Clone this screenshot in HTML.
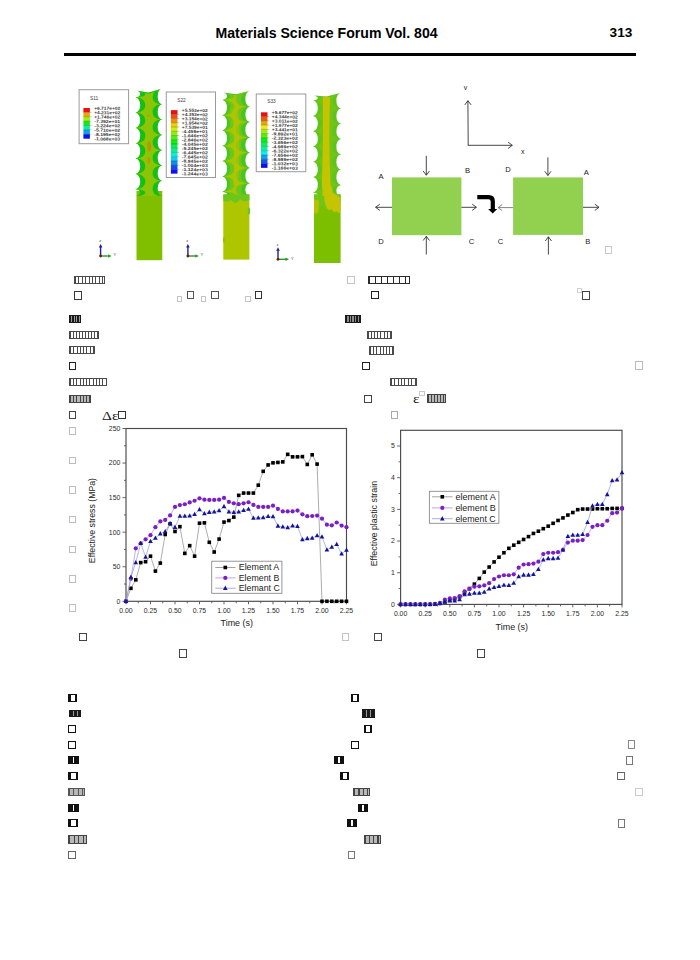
<!DOCTYPE html>
<html><head><meta charset="utf-8"><title>Materials Science Forum Vol. 804</title>
<style>
html,body{margin:0;padding:0;background:#fff;}
body{width:700px;height:960px;position:relative;overflow:hidden;font-family:"Liberation Sans",sans-serif;}
.a{position:absolute;white-space:nowrap;}
.t{position:absolute;box-sizing:border-box;}
svg{position:absolute;left:0;top:0;overflow:visible;}
</style></head><body>

<div class="a" style="left:215.4px;top:24.6px;font-weight:bold;font-size:14.1px;line-height:16px;color:#000">Materials Science Forum Vol. 804</div>
<div class="a" style="left:609.6px;top:24.8px;font-weight:bold;font-size:13.6px;line-height:16px;color:#000">313</div>
<div class="a" style="left:64px;top:53.4px;width:571.5px;height:2.3px;background:#000"></div>
<svg width="700" height="960" viewBox="0 0 700 960">
<g font-family='"Liberation Sans",sans-serif'>
<rect x="126" y="428.5" width="220.5" height="172.79999999999995" fill="none" stroke="#4a4a4a" stroke-width="1.15"/>
<line x1="126.00" y1="601.3" x2="126.00" y2="604.3" stroke="#555" stroke-width="0.9"/>
<text x="126.00" y="612.7" font-size="6.9" fill="#2a2a2a" text-anchor="middle" >0.00</text>
<line x1="138.25" y1="601.3" x2="138.25" y2="603.3" stroke="#555" stroke-width="0.9"/>
<line x1="150.50" y1="601.3" x2="150.50" y2="604.3" stroke="#555" stroke-width="0.9"/>
<text x="150.50" y="612.7" font-size="6.9" fill="#2a2a2a" text-anchor="middle" >0.25</text>
<line x1="162.75" y1="601.3" x2="162.75" y2="603.3" stroke="#555" stroke-width="0.9"/>
<line x1="175.00" y1="601.3" x2="175.00" y2="604.3" stroke="#555" stroke-width="0.9"/>
<text x="175.00" y="612.7" font-size="6.9" fill="#2a2a2a" text-anchor="middle" >0.50</text>
<line x1="187.25" y1="601.3" x2="187.25" y2="603.3" stroke="#555" stroke-width="0.9"/>
<line x1="199.50" y1="601.3" x2="199.50" y2="604.3" stroke="#555" stroke-width="0.9"/>
<text x="199.50" y="612.7" font-size="6.9" fill="#2a2a2a" text-anchor="middle" >0.75</text>
<line x1="211.75" y1="601.3" x2="211.75" y2="603.3" stroke="#555" stroke-width="0.9"/>
<line x1="224.00" y1="601.3" x2="224.00" y2="604.3" stroke="#555" stroke-width="0.9"/>
<text x="224.00" y="612.7" font-size="6.9" fill="#2a2a2a" text-anchor="middle" >1.00</text>
<line x1="236.25" y1="601.3" x2="236.25" y2="603.3" stroke="#555" stroke-width="0.9"/>
<line x1="248.50" y1="601.3" x2="248.50" y2="604.3" stroke="#555" stroke-width="0.9"/>
<text x="248.50" y="612.7" font-size="6.9" fill="#2a2a2a" text-anchor="middle" >1.25</text>
<line x1="260.75" y1="601.3" x2="260.75" y2="603.3" stroke="#555" stroke-width="0.9"/>
<line x1="273.00" y1="601.3" x2="273.00" y2="604.3" stroke="#555" stroke-width="0.9"/>
<text x="273.00" y="612.7" font-size="6.9" fill="#2a2a2a" text-anchor="middle" >1.50</text>
<line x1="285.25" y1="601.3" x2="285.25" y2="603.3" stroke="#555" stroke-width="0.9"/>
<line x1="297.50" y1="601.3" x2="297.50" y2="604.3" stroke="#555" stroke-width="0.9"/>
<text x="297.50" y="612.7" font-size="6.9" fill="#2a2a2a" text-anchor="middle" >1.75</text>
<line x1="309.75" y1="601.3" x2="309.75" y2="603.3" stroke="#555" stroke-width="0.9"/>
<line x1="322.00" y1="601.3" x2="322.00" y2="604.3" stroke="#555" stroke-width="0.9"/>
<text x="322.00" y="612.7" font-size="6.9" fill="#2a2a2a" text-anchor="middle" >2.00</text>
<line x1="334.25" y1="601.3" x2="334.25" y2="603.3" stroke="#555" stroke-width="0.9"/>
<line x1="346.50" y1="601.3" x2="346.50" y2="604.3" stroke="#555" stroke-width="0.9"/>
<text x="346.50" y="612.7" font-size="6.9" fill="#2a2a2a" text-anchor="middle" >2.25</text>
<line x1="122.5" y1="601.30" x2="126" y2="601.30" stroke="#555" stroke-width="0.9"/>
<line x1="122.5" y1="566.74" x2="126" y2="566.74" stroke="#555" stroke-width="0.9"/>
<line x1="122.5" y1="532.18" x2="126" y2="532.18" stroke="#555" stroke-width="0.9"/>
<line x1="122.5" y1="497.62" x2="126" y2="497.62" stroke="#555" stroke-width="0.9"/>
<line x1="122.5" y1="463.06" x2="126" y2="463.06" stroke="#555" stroke-width="0.9"/>
<line x1="122.5" y1="428.50" x2="126" y2="428.50" stroke="#555" stroke-width="0.9"/>
<text x="120.3" y="603.70" font-size="6.9" fill="#2a2a2a" text-anchor="end" >0</text>
<text x="120.3" y="569.14" font-size="6.9" fill="#2a2a2a" text-anchor="end" >50</text>
<text x="120.3" y="534.58" font-size="6.9" fill="#2a2a2a" text-anchor="end" >100</text>
<text x="120.3" y="500.02" font-size="6.9" fill="#2a2a2a" text-anchor="end" >150</text>
<text x="120.3" y="465.46" font-size="6.9" fill="#2a2a2a" text-anchor="end" >200</text>
<text x="120.3" y="430.90" font-size="6.9" fill="#2a2a2a" text-anchor="end" >250</text>
<line x1="124" y1="584.02" x2="126" y2="584.02" stroke="#555" stroke-width="0.9"/>
<line x1="124" y1="549.46" x2="126" y2="549.46" stroke="#555" stroke-width="0.9"/>
<line x1="124" y1="514.90" x2="126" y2="514.90" stroke="#555" stroke-width="0.9"/>
<line x1="124" y1="480.34" x2="126" y2="480.34" stroke="#555" stroke-width="0.9"/>
<line x1="124" y1="445.78" x2="126" y2="445.78" stroke="#555" stroke-width="0.9"/>
<text x="236.75" y="626.2" font-size="8.6" fill="#222" text-anchor="middle" textLength="32.5" lengthAdjust="spacingAndGlyphs" transform="translate(0,0)">Time (s)</text>
<text x="0" y="0" font-size="9" fill="#222" text-anchor="middle" textLength="85.2" lengthAdjust="spacingAndGlyphs" transform="translate(94.9,520.6) rotate(-90)">Effective stress (MPa)</text>
<polyline points="126.00,601.30 130.90,588.31 135.80,579.87 140.70,562.59 145.60,561.69 150.50,556.16 155.40,571.09 160.30,563.08 165.20,534.46 170.10,523.89 175.00,531.49 179.90,526.65 184.80,553.40 189.70,545.66 194.60,556.16 199.50,523.19 204.40,522.85 209.30,542.27 214.20,552.02 219.10,539.09 224.00,522.09 228.90,520.57 233.80,517.11 238.70,495.34 243.60,493.06 248.50,493.06 253.40,493.06 258.30,485.18 263.20,471.35 268.10,464.93 273.00,462.85 277.90,462.44 282.80,461.88 287.70,454.35 292.60,456.84 297.50,456.84 302.40,456.63 307.30,464.44 312.20,454.77 317.10,464.10 322.00,601.30 326.90,601.30 331.80,601.30 336.70,601.30 341.60,601.30 346.50,601.30" fill="none" stroke="#8a8a8a" stroke-width="0.7"/>
<rect x="124.20" y="599.50" width="3.6" height="3.6" fill="#000"/>
<rect x="129.10" y="586.51" width="3.6" height="3.6" fill="#000"/>
<rect x="134.00" y="578.07" width="3.6" height="3.6" fill="#000"/>
<rect x="138.90" y="560.79" width="3.6" height="3.6" fill="#000"/>
<rect x="143.80" y="559.89" width="3.6" height="3.6" fill="#000"/>
<rect x="148.70" y="554.36" width="3.6" height="3.6" fill="#000"/>
<rect x="153.60" y="569.29" width="3.6" height="3.6" fill="#000"/>
<rect x="158.50" y="561.28" width="3.6" height="3.6" fill="#000"/>
<rect x="163.40" y="532.66" width="3.6" height="3.6" fill="#000"/>
<rect x="168.30" y="522.09" width="3.6" height="3.6" fill="#000"/>
<rect x="173.20" y="529.69" width="3.6" height="3.6" fill="#000"/>
<rect x="178.10" y="524.85" width="3.6" height="3.6" fill="#000"/>
<rect x="183.00" y="551.60" width="3.6" height="3.6" fill="#000"/>
<rect x="187.90" y="543.86" width="3.6" height="3.6" fill="#000"/>
<rect x="192.80" y="554.36" width="3.6" height="3.6" fill="#000"/>
<rect x="197.70" y="521.39" width="3.6" height="3.6" fill="#000"/>
<rect x="202.60" y="521.05" width="3.6" height="3.6" fill="#000"/>
<rect x="207.50" y="540.47" width="3.6" height="3.6" fill="#000"/>
<rect x="212.40" y="550.22" width="3.6" height="3.6" fill="#000"/>
<rect x="217.30" y="537.29" width="3.6" height="3.6" fill="#000"/>
<rect x="222.20" y="520.29" width="3.6" height="3.6" fill="#000"/>
<rect x="227.10" y="518.77" width="3.6" height="3.6" fill="#000"/>
<rect x="232.00" y="515.31" width="3.6" height="3.6" fill="#000"/>
<rect x="236.90" y="493.54" width="3.6" height="3.6" fill="#000"/>
<rect x="241.80" y="491.26" width="3.6" height="3.6" fill="#000"/>
<rect x="246.70" y="491.26" width="3.6" height="3.6" fill="#000"/>
<rect x="251.60" y="491.26" width="3.6" height="3.6" fill="#000"/>
<rect x="256.50" y="483.38" width="3.6" height="3.6" fill="#000"/>
<rect x="261.40" y="469.55" width="3.6" height="3.6" fill="#000"/>
<rect x="266.30" y="463.13" width="3.6" height="3.6" fill="#000"/>
<rect x="271.20" y="461.05" width="3.6" height="3.6" fill="#000"/>
<rect x="276.10" y="460.64" width="3.6" height="3.6" fill="#000"/>
<rect x="281.00" y="460.08" width="3.6" height="3.6" fill="#000"/>
<rect x="285.90" y="452.55" width="3.6" height="3.6" fill="#000"/>
<rect x="290.80" y="455.04" width="3.6" height="3.6" fill="#000"/>
<rect x="295.70" y="455.04" width="3.6" height="3.6" fill="#000"/>
<rect x="300.60" y="454.83" width="3.6" height="3.6" fill="#000"/>
<rect x="305.50" y="462.64" width="3.6" height="3.6" fill="#000"/>
<rect x="310.40" y="452.97" width="3.6" height="3.6" fill="#000"/>
<rect x="315.30" y="462.30" width="3.6" height="3.6" fill="#000"/>
<rect x="320.20" y="599.50" width="3.6" height="3.6" fill="#000"/>
<rect x="325.10" y="599.50" width="3.6" height="3.6" fill="#000"/>
<rect x="330.00" y="599.50" width="3.6" height="3.6" fill="#000"/>
<rect x="334.90" y="599.50" width="3.6" height="3.6" fill="#000"/>
<rect x="339.80" y="599.50" width="3.6" height="3.6" fill="#000"/>
<rect x="344.70" y="599.50" width="3.6" height="3.6" fill="#000"/>
<polyline points="126.00,601.30 130.90,578.84 135.80,548.28 140.70,543.24 145.60,539.37 150.50,535.15 155.40,527.20 160.30,521.47 165.20,519.95 170.10,515.38 175.00,506.88 179.90,505.08 184.80,504.26 189.70,502.46 194.60,500.73 199.50,498.31 204.40,499.69 209.30,499.97 214.20,499.97 219.10,499.69 224.00,497.97 228.90,501.91 233.80,503.36 238.70,504.19 243.60,503.36 248.50,502.25 253.40,504.88 258.30,506.88 263.20,506.88 268.10,506.88 273.00,505.64 277.90,508.96 282.80,511.44 287.70,511.44 292.60,511.44 297.50,510.61 302.40,514.35 307.30,516.21 312.20,516.01 317.10,515.59 322.00,518.70 326.90,524.72 331.80,525.34 336.70,522.50 341.60,525.61 346.50,527.20" fill="none" stroke="#b58ae0" stroke-width="0.7"/>
<circle cx="126.00" cy="601.30" r="2.1" fill="#7a1fc4"/>
<circle cx="130.90" cy="578.84" r="2.1" fill="#7a1fc4"/>
<circle cx="135.80" cy="548.28" r="2.1" fill="#7a1fc4"/>
<circle cx="140.70" cy="543.24" r="2.1" fill="#7a1fc4"/>
<circle cx="145.60" cy="539.37" r="2.1" fill="#7a1fc4"/>
<circle cx="150.50" cy="535.15" r="2.1" fill="#7a1fc4"/>
<circle cx="155.40" cy="527.20" r="2.1" fill="#7a1fc4"/>
<circle cx="160.30" cy="521.47" r="2.1" fill="#7a1fc4"/>
<circle cx="165.20" cy="519.95" r="2.1" fill="#7a1fc4"/>
<circle cx="170.10" cy="515.38" r="2.1" fill="#7a1fc4"/>
<circle cx="175.00" cy="506.88" r="2.1" fill="#7a1fc4"/>
<circle cx="179.90" cy="505.08" r="2.1" fill="#7a1fc4"/>
<circle cx="184.80" cy="504.26" r="2.1" fill="#7a1fc4"/>
<circle cx="189.70" cy="502.46" r="2.1" fill="#7a1fc4"/>
<circle cx="194.60" cy="500.73" r="2.1" fill="#7a1fc4"/>
<circle cx="199.50" cy="498.31" r="2.1" fill="#7a1fc4"/>
<circle cx="204.40" cy="499.69" r="2.1" fill="#7a1fc4"/>
<circle cx="209.30" cy="499.97" r="2.1" fill="#7a1fc4"/>
<circle cx="214.20" cy="499.97" r="2.1" fill="#7a1fc4"/>
<circle cx="219.10" cy="499.69" r="2.1" fill="#7a1fc4"/>
<circle cx="224.00" cy="497.97" r="2.1" fill="#7a1fc4"/>
<circle cx="228.90" cy="501.91" r="2.1" fill="#7a1fc4"/>
<circle cx="233.80" cy="503.36" r="2.1" fill="#7a1fc4"/>
<circle cx="238.70" cy="504.19" r="2.1" fill="#7a1fc4"/>
<circle cx="243.60" cy="503.36" r="2.1" fill="#7a1fc4"/>
<circle cx="248.50" cy="502.25" r="2.1" fill="#7a1fc4"/>
<circle cx="253.40" cy="504.88" r="2.1" fill="#7a1fc4"/>
<circle cx="258.30" cy="506.88" r="2.1" fill="#7a1fc4"/>
<circle cx="263.20" cy="506.88" r="2.1" fill="#7a1fc4"/>
<circle cx="268.10" cy="506.88" r="2.1" fill="#7a1fc4"/>
<circle cx="273.00" cy="505.64" r="2.1" fill="#7a1fc4"/>
<circle cx="277.90" cy="508.96" r="2.1" fill="#7a1fc4"/>
<circle cx="282.80" cy="511.44" r="2.1" fill="#7a1fc4"/>
<circle cx="287.70" cy="511.44" r="2.1" fill="#7a1fc4"/>
<circle cx="292.60" cy="511.44" r="2.1" fill="#7a1fc4"/>
<circle cx="297.50" cy="510.61" r="2.1" fill="#7a1fc4"/>
<circle cx="302.40" cy="514.35" r="2.1" fill="#7a1fc4"/>
<circle cx="307.30" cy="516.21" r="2.1" fill="#7a1fc4"/>
<circle cx="312.20" cy="516.01" r="2.1" fill="#7a1fc4"/>
<circle cx="317.10" cy="515.59" r="2.1" fill="#7a1fc4"/>
<circle cx="322.00" cy="518.70" r="2.1" fill="#7a1fc4"/>
<circle cx="326.90" cy="524.72" r="2.1" fill="#7a1fc4"/>
<circle cx="331.80" cy="525.34" r="2.1" fill="#7a1fc4"/>
<circle cx="336.70" cy="522.50" r="2.1" fill="#7a1fc4"/>
<circle cx="341.60" cy="525.61" r="2.1" fill="#7a1fc4"/>
<circle cx="346.50" cy="527.20" r="2.1" fill="#7a1fc4"/>
<polyline points="126.00,601.30 130.90,577.11 135.80,562.59 140.70,543.24 145.60,557.06 150.50,541.37 155.40,538.06 160.30,533.70 165.20,531.49 170.10,523.40 175.00,527.20 179.90,516.14 184.80,516.14 189.70,515.73 194.60,514.28 199.50,509.51 204.40,513.66 209.30,512.20 214.20,511.79 219.10,510.61 224.00,506.47 228.90,511.79 233.80,512.27 238.70,511.79 243.60,510.27 248.50,509.09 253.40,518.08 258.30,517.80 263.20,517.53 268.10,516.28 273.00,516.49 277.90,525.96 282.80,526.86 287.70,527.48 292.60,525.89 297.50,526.24 302.40,539.58 307.30,538.47 312.20,538.12 317.10,535.64 322.00,536.88 326.90,549.74 331.80,547.11 336.70,544.41 341.60,553.75 346.50,550.01" fill="none" stroke="#8f9ad0" stroke-width="0.7"/>
<path d="M126.00,598.70L128.30,603.00L123.70,603.00Z" fill="#14149a"/>
<path d="M130.90,574.51L133.20,578.81L128.60,578.81Z" fill="#14149a"/>
<path d="M135.80,559.99L138.10,564.29L133.50,564.29Z" fill="#14149a"/>
<path d="M140.70,540.64L143.00,544.94L138.40,544.94Z" fill="#14149a"/>
<path d="M145.60,554.46L147.90,558.76L143.30,558.76Z" fill="#14149a"/>
<path d="M150.50,538.77L152.80,543.07L148.20,543.07Z" fill="#14149a"/>
<path d="M155.40,535.46L157.70,539.76L153.10,539.76Z" fill="#14149a"/>
<path d="M160.30,531.10L162.60,535.40L158.00,535.40Z" fill="#14149a"/>
<path d="M165.20,528.89L167.50,533.19L162.90,533.19Z" fill="#14149a"/>
<path d="M170.10,520.80L172.40,525.10L167.80,525.10Z" fill="#14149a"/>
<path d="M175.00,524.60L177.30,528.90L172.70,528.90Z" fill="#14149a"/>
<path d="M179.90,513.54L182.20,517.84L177.60,517.84Z" fill="#14149a"/>
<path d="M184.80,513.54L187.10,517.84L182.50,517.84Z" fill="#14149a"/>
<path d="M189.70,513.13L192.00,517.43L187.40,517.43Z" fill="#14149a"/>
<path d="M194.60,511.68L196.90,515.98L192.30,515.98Z" fill="#14149a"/>
<path d="M199.50,506.91L201.80,511.21L197.20,511.21Z" fill="#14149a"/>
<path d="M204.40,511.06L206.70,515.36L202.10,515.36Z" fill="#14149a"/>
<path d="M209.30,509.60L211.60,513.90L207.00,513.90Z" fill="#14149a"/>
<path d="M214.20,509.19L216.50,513.49L211.90,513.49Z" fill="#14149a"/>
<path d="M219.10,508.01L221.40,512.31L216.80,512.31Z" fill="#14149a"/>
<path d="M224.00,503.87L226.30,508.17L221.70,508.17Z" fill="#14149a"/>
<path d="M228.90,509.19L231.20,513.49L226.60,513.49Z" fill="#14149a"/>
<path d="M233.80,509.67L236.10,513.97L231.50,513.97Z" fill="#14149a"/>
<path d="M238.70,509.19L241.00,513.49L236.40,513.49Z" fill="#14149a"/>
<path d="M243.60,507.67L245.90,511.97L241.30,511.97Z" fill="#14149a"/>
<path d="M248.50,506.49L250.80,510.79L246.20,510.79Z" fill="#14149a"/>
<path d="M253.40,515.48L255.70,519.78L251.10,519.78Z" fill="#14149a"/>
<path d="M258.30,515.20L260.60,519.50L256.00,519.50Z" fill="#14149a"/>
<path d="M263.20,514.93L265.50,519.23L260.90,519.23Z" fill="#14149a"/>
<path d="M268.10,513.68L270.40,517.98L265.80,517.98Z" fill="#14149a"/>
<path d="M273.00,513.89L275.30,518.19L270.70,518.19Z" fill="#14149a"/>
<path d="M277.90,523.36L280.20,527.66L275.60,527.66Z" fill="#14149a"/>
<path d="M282.80,524.26L285.10,528.56L280.50,528.56Z" fill="#14149a"/>
<path d="M287.70,524.88L290.00,529.18L285.40,529.18Z" fill="#14149a"/>
<path d="M292.60,523.29L294.90,527.59L290.30,527.59Z" fill="#14149a"/>
<path d="M297.50,523.64L299.80,527.94L295.20,527.94Z" fill="#14149a"/>
<path d="M302.40,536.98L304.70,541.28L300.10,541.28Z" fill="#14149a"/>
<path d="M307.30,535.87L309.60,540.17L305.00,540.17Z" fill="#14149a"/>
<path d="M312.20,535.52L314.50,539.82L309.90,539.82Z" fill="#14149a"/>
<path d="M317.10,533.04L319.40,537.34L314.80,537.34Z" fill="#14149a"/>
<path d="M322.00,534.28L324.30,538.58L319.70,538.58Z" fill="#14149a"/>
<path d="M326.90,547.14L329.20,551.44L324.60,551.44Z" fill="#14149a"/>
<path d="M331.80,544.51L334.10,548.81L329.50,548.81Z" fill="#14149a"/>
<path d="M336.70,541.81L339.00,546.11L334.40,546.11Z" fill="#14149a"/>
<path d="M341.60,551.15L343.90,555.45L339.30,555.45Z" fill="#14149a"/>
<path d="M346.50,547.41L348.80,551.71L344.20,551.71Z" fill="#14149a"/>
<rect x="211.7" y="561.2" width="70.19999999999999" height="32.09999999999991" fill="#fff" stroke="#8a8a8a" stroke-width="0.9"/>
<line x1="215.3" y1="567.5" x2="235.5" y2="567.5" stroke="#8a8a8a" stroke-width="0.8"/>
<rect x="223.50" y="565.70" width="3.6" height="3.6" fill="#000"/>
<text x="238.7" y="570.40" font-size="8.2" fill="#222" text-anchor="start" textLength="40.6" lengthAdjust="spacingAndGlyphs" >Element A</text>
<line x1="215.3" y1="577.9" x2="235.5" y2="577.9" stroke="#b58ae0" stroke-width="0.8"/>
<circle cx="225.30" cy="577.90" r="2.1" fill="#7a1fc4"/>
<text x="238.7" y="580.80" font-size="8.2" fill="#222" text-anchor="start" textLength="40.6" lengthAdjust="spacingAndGlyphs" >Element B</text>
<line x1="215.3" y1="588.2" x2="235.5" y2="588.2" stroke="#8f9ad0" stroke-width="0.8"/>
<path d="M225.30,585.60L227.60,589.90L223.00,589.90Z" fill="#14149a"/>
<text x="238.7" y="591.10" font-size="8.2" fill="#222" text-anchor="start" textLength="41.2" lengthAdjust="spacingAndGlyphs" >Elemant C</text>
</g>
<g font-family='"Liberation Sans",sans-serif'>
<rect x="400.6" y="430.3" width="221.39999999999998" height="174.09999999999997" fill="none" stroke="#4a4a4a" stroke-width="1.15"/>
<line x1="400.60" y1="604.4" x2="400.60" y2="607.4" stroke="#555" stroke-width="0.9"/>
<text x="400.60" y="615.9" font-size="6.9" fill="#2a2a2a" text-anchor="middle" >0.00</text>
<line x1="412.90" y1="604.4" x2="412.90" y2="606.4" stroke="#555" stroke-width="0.9"/>
<line x1="425.20" y1="604.4" x2="425.20" y2="607.4" stroke="#555" stroke-width="0.9"/>
<text x="425.20" y="615.9" font-size="6.9" fill="#2a2a2a" text-anchor="middle" >0.25</text>
<line x1="437.50" y1="604.4" x2="437.50" y2="606.4" stroke="#555" stroke-width="0.9"/>
<line x1="449.80" y1="604.4" x2="449.80" y2="607.4" stroke="#555" stroke-width="0.9"/>
<text x="449.80" y="615.9" font-size="6.9" fill="#2a2a2a" text-anchor="middle" >0.50</text>
<line x1="462.10" y1="604.4" x2="462.10" y2="606.4" stroke="#555" stroke-width="0.9"/>
<line x1="474.40" y1="604.4" x2="474.40" y2="607.4" stroke="#555" stroke-width="0.9"/>
<text x="474.40" y="615.9" font-size="6.9" fill="#2a2a2a" text-anchor="middle" >0.75</text>
<line x1="486.70" y1="604.4" x2="486.70" y2="606.4" stroke="#555" stroke-width="0.9"/>
<line x1="499.00" y1="604.4" x2="499.00" y2="607.4" stroke="#555" stroke-width="0.9"/>
<text x="499.00" y="615.9" font-size="6.9" fill="#2a2a2a" text-anchor="middle" >1.00</text>
<line x1="511.30" y1="604.4" x2="511.30" y2="606.4" stroke="#555" stroke-width="0.9"/>
<line x1="523.60" y1="604.4" x2="523.60" y2="607.4" stroke="#555" stroke-width="0.9"/>
<text x="523.60" y="615.9" font-size="6.9" fill="#2a2a2a" text-anchor="middle" >1.25</text>
<line x1="535.90" y1="604.4" x2="535.90" y2="606.4" stroke="#555" stroke-width="0.9"/>
<line x1="548.20" y1="604.4" x2="548.20" y2="607.4" stroke="#555" stroke-width="0.9"/>
<text x="548.20" y="615.9" font-size="6.9" fill="#2a2a2a" text-anchor="middle" >1.50</text>
<line x1="560.50" y1="604.4" x2="560.50" y2="606.4" stroke="#555" stroke-width="0.9"/>
<line x1="572.80" y1="604.4" x2="572.80" y2="607.4" stroke="#555" stroke-width="0.9"/>
<text x="572.80" y="615.9" font-size="6.9" fill="#2a2a2a" text-anchor="middle" >1.75</text>
<line x1="585.10" y1="604.4" x2="585.10" y2="606.4" stroke="#555" stroke-width="0.9"/>
<line x1="597.40" y1="604.4" x2="597.40" y2="607.4" stroke="#555" stroke-width="0.9"/>
<text x="597.40" y="615.9" font-size="6.9" fill="#2a2a2a" text-anchor="middle" >2.00</text>
<line x1="609.70" y1="604.4" x2="609.70" y2="606.4" stroke="#555" stroke-width="0.9"/>
<line x1="622.00" y1="604.4" x2="622.00" y2="607.4" stroke="#555" stroke-width="0.9"/>
<text x="622.00" y="615.9" font-size="6.9" fill="#2a2a2a" text-anchor="middle" >2.25</text>
<line x1="397.1" y1="604.40" x2="400.6" y2="604.40" stroke="#555" stroke-width="0.9"/>
<line x1="397.1" y1="572.72" x2="400.6" y2="572.72" stroke="#555" stroke-width="0.9"/>
<line x1="397.1" y1="541.04" x2="400.6" y2="541.04" stroke="#555" stroke-width="0.9"/>
<line x1="397.1" y1="509.36" x2="400.6" y2="509.36" stroke="#555" stroke-width="0.9"/>
<line x1="397.1" y1="477.68" x2="400.6" y2="477.68" stroke="#555" stroke-width="0.9"/>
<line x1="397.1" y1="446.00" x2="400.6" y2="446.00" stroke="#555" stroke-width="0.9"/>
<text x="394.8" y="606.80" font-size="6.9" fill="#2a2a2a" text-anchor="end" >0</text>
<text x="394.8" y="575.12" font-size="6.9" fill="#2a2a2a" text-anchor="end" >1</text>
<text x="394.8" y="543.44" font-size="6.9" fill="#2a2a2a" text-anchor="end" >2</text>
<text x="394.8" y="511.76" font-size="6.9" fill="#2a2a2a" text-anchor="end" >3</text>
<text x="394.8" y="480.08" font-size="6.9" fill="#2a2a2a" text-anchor="end" >4</text>
<text x="394.8" y="448.40" font-size="6.9" fill="#2a2a2a" text-anchor="end" >5</text>
<line x1="398.6" y1="588.56" x2="400.6" y2="588.56" stroke="#555" stroke-width="0.9"/>
<line x1="398.6" y1="556.88" x2="400.6" y2="556.88" stroke="#555" stroke-width="0.9"/>
<line x1="398.6" y1="525.20" x2="400.6" y2="525.20" stroke="#555" stroke-width="0.9"/>
<line x1="398.6" y1="493.52" x2="400.6" y2="493.52" stroke="#555" stroke-width="0.9"/>
<line x1="398.6" y1="461.84" x2="400.6" y2="461.84" stroke="#555" stroke-width="0.9"/>
<text x="511.8" y="629.5" font-size="8.6" fill="#222" text-anchor="middle" textLength="32.5" lengthAdjust="spacingAndGlyphs" transform="translate(0,0)">Time (s)</text>
<text x="0" y="0" font-size="9" fill="#222" text-anchor="middle" textLength="85.4" lengthAdjust="spacingAndGlyphs" transform="translate(377.2,523.6) rotate(-90)">Effective plastic strain</text>
<polyline points="400.60,604.40 405.52,604.40 410.44,604.40 415.36,604.40 420.28,604.40 425.20,604.40 430.12,604.40 435.04,604.08 439.96,603.45 444.88,601.87 449.80,600.28 454.72,599.01 459.64,596.80 464.56,593.00 469.48,588.56 474.40,584.12 479.32,578.42 484.24,572.09 489.16,567.02 494.08,561.95 499.00,557.20 503.92,552.76 508.84,548.33 513.76,545.16 518.68,542.31 523.60,539.46 528.52,536.60 533.44,533.44 538.36,531.22 543.28,528.68 548.20,526.15 553.12,523.30 558.04,520.45 562.96,517.91 567.88,515.06 572.80,512.53 577.72,509.68 582.64,509.04 587.56,509.04 592.48,509.04 597.40,508.73 602.32,508.73 607.24,508.73 612.16,508.41 617.08,508.41 622.00,508.41" fill="none" stroke="#8a8a8a" stroke-width="0.7"/>
<rect x="398.80" y="602.60" width="3.6" height="3.6" fill="#000"/>
<rect x="403.72" y="602.60" width="3.6" height="3.6" fill="#000"/>
<rect x="408.64" y="602.60" width="3.6" height="3.6" fill="#000"/>
<rect x="413.56" y="602.60" width="3.6" height="3.6" fill="#000"/>
<rect x="418.48" y="602.60" width="3.6" height="3.6" fill="#000"/>
<rect x="423.40" y="602.60" width="3.6" height="3.6" fill="#000"/>
<rect x="428.32" y="602.60" width="3.6" height="3.6" fill="#000"/>
<rect x="433.24" y="602.28" width="3.6" height="3.6" fill="#000"/>
<rect x="438.16" y="601.65" width="3.6" height="3.6" fill="#000"/>
<rect x="443.08" y="600.07" width="3.6" height="3.6" fill="#000"/>
<rect x="448.00" y="598.48" width="3.6" height="3.6" fill="#000"/>
<rect x="452.92" y="597.21" width="3.6" height="3.6" fill="#000"/>
<rect x="457.84" y="595.00" width="3.6" height="3.6" fill="#000"/>
<rect x="462.76" y="591.20" width="3.6" height="3.6" fill="#000"/>
<rect x="467.68" y="586.76" width="3.6" height="3.6" fill="#000"/>
<rect x="472.60" y="582.32" width="3.6" height="3.6" fill="#000"/>
<rect x="477.52" y="576.62" width="3.6" height="3.6" fill="#000"/>
<rect x="482.44" y="570.29" width="3.6" height="3.6" fill="#000"/>
<rect x="487.36" y="565.22" width="3.6" height="3.6" fill="#000"/>
<rect x="492.28" y="560.15" width="3.6" height="3.6" fill="#000"/>
<rect x="497.20" y="555.40" width="3.6" height="3.6" fill="#000"/>
<rect x="502.12" y="550.96" width="3.6" height="3.6" fill="#000"/>
<rect x="507.04" y="546.53" width="3.6" height="3.6" fill="#000"/>
<rect x="511.96" y="543.36" width="3.6" height="3.6" fill="#000"/>
<rect x="516.88" y="540.51" width="3.6" height="3.6" fill="#000"/>
<rect x="521.80" y="537.66" width="3.6" height="3.6" fill="#000"/>
<rect x="526.72" y="534.80" width="3.6" height="3.6" fill="#000"/>
<rect x="531.64" y="531.64" width="3.6" height="3.6" fill="#000"/>
<rect x="536.56" y="529.42" width="3.6" height="3.6" fill="#000"/>
<rect x="541.48" y="526.88" width="3.6" height="3.6" fill="#000"/>
<rect x="546.40" y="524.35" width="3.6" height="3.6" fill="#000"/>
<rect x="551.32" y="521.50" width="3.6" height="3.6" fill="#000"/>
<rect x="556.24" y="518.65" width="3.6" height="3.6" fill="#000"/>
<rect x="561.16" y="516.11" width="3.6" height="3.6" fill="#000"/>
<rect x="566.08" y="513.26" width="3.6" height="3.6" fill="#000"/>
<rect x="571.00" y="510.73" width="3.6" height="3.6" fill="#000"/>
<rect x="575.92" y="507.88" width="3.6" height="3.6" fill="#000"/>
<rect x="580.84" y="507.24" width="3.6" height="3.6" fill="#000"/>
<rect x="585.76" y="507.24" width="3.6" height="3.6" fill="#000"/>
<rect x="590.68" y="507.24" width="3.6" height="3.6" fill="#000"/>
<rect x="595.60" y="506.93" width="3.6" height="3.6" fill="#000"/>
<rect x="600.52" y="506.93" width="3.6" height="3.6" fill="#000"/>
<rect x="605.44" y="506.93" width="3.6" height="3.6" fill="#000"/>
<rect x="610.36" y="506.61" width="3.6" height="3.6" fill="#000"/>
<rect x="615.28" y="506.61" width="3.6" height="3.6" fill="#000"/>
<rect x="620.20" y="506.61" width="3.6" height="3.6" fill="#000"/>
<polyline points="400.60,604.40 405.52,604.40 410.44,604.40 415.36,604.40 420.28,604.40 425.20,604.40 430.12,604.24 435.04,604.08 439.96,603.13 444.88,599.65 449.80,598.38 454.72,598.06 459.64,596.16 464.56,591.41 469.48,588.88 474.40,586.66 479.32,586.34 484.24,585.39 489.16,583.17 494.08,579.06 499.00,576.52 503.92,575.25 508.84,575.25 513.76,574.30 518.68,567.65 523.60,564.48 528.52,564.17 533.44,563.53 538.36,561.63 543.28,554.03 548.20,552.76 553.12,552.76 558.04,552.13 562.96,549.91 567.88,542.62 572.80,540.72 577.72,540.72 582.64,540.09 587.56,535.02 592.48,526.78 597.40,525.20 602.32,525.20 607.24,520.76 612.16,513.16 617.08,512.53 622.00,508.41" fill="none" stroke="#b58ae0" stroke-width="0.7"/>
<circle cx="400.60" cy="604.40" r="2.1" fill="#7a1fc4"/>
<circle cx="405.52" cy="604.40" r="2.1" fill="#7a1fc4"/>
<circle cx="410.44" cy="604.40" r="2.1" fill="#7a1fc4"/>
<circle cx="415.36" cy="604.40" r="2.1" fill="#7a1fc4"/>
<circle cx="420.28" cy="604.40" r="2.1" fill="#7a1fc4"/>
<circle cx="425.20" cy="604.40" r="2.1" fill="#7a1fc4"/>
<circle cx="430.12" cy="604.24" r="2.1" fill="#7a1fc4"/>
<circle cx="435.04" cy="604.08" r="2.1" fill="#7a1fc4"/>
<circle cx="439.96" cy="603.13" r="2.1" fill="#7a1fc4"/>
<circle cx="444.88" cy="599.65" r="2.1" fill="#7a1fc4"/>
<circle cx="449.80" cy="598.38" r="2.1" fill="#7a1fc4"/>
<circle cx="454.72" cy="598.06" r="2.1" fill="#7a1fc4"/>
<circle cx="459.64" cy="596.16" r="2.1" fill="#7a1fc4"/>
<circle cx="464.56" cy="591.41" r="2.1" fill="#7a1fc4"/>
<circle cx="469.48" cy="588.88" r="2.1" fill="#7a1fc4"/>
<circle cx="474.40" cy="586.66" r="2.1" fill="#7a1fc4"/>
<circle cx="479.32" cy="586.34" r="2.1" fill="#7a1fc4"/>
<circle cx="484.24" cy="585.39" r="2.1" fill="#7a1fc4"/>
<circle cx="489.16" cy="583.17" r="2.1" fill="#7a1fc4"/>
<circle cx="494.08" cy="579.06" r="2.1" fill="#7a1fc4"/>
<circle cx="499.00" cy="576.52" r="2.1" fill="#7a1fc4"/>
<circle cx="503.92" cy="575.25" r="2.1" fill="#7a1fc4"/>
<circle cx="508.84" cy="575.25" r="2.1" fill="#7a1fc4"/>
<circle cx="513.76" cy="574.30" r="2.1" fill="#7a1fc4"/>
<circle cx="518.68" cy="567.65" r="2.1" fill="#7a1fc4"/>
<circle cx="523.60" cy="564.48" r="2.1" fill="#7a1fc4"/>
<circle cx="528.52" cy="564.17" r="2.1" fill="#7a1fc4"/>
<circle cx="533.44" cy="563.53" r="2.1" fill="#7a1fc4"/>
<circle cx="538.36" cy="561.63" r="2.1" fill="#7a1fc4"/>
<circle cx="543.28" cy="554.03" r="2.1" fill="#7a1fc4"/>
<circle cx="548.20" cy="552.76" r="2.1" fill="#7a1fc4"/>
<circle cx="553.12" cy="552.76" r="2.1" fill="#7a1fc4"/>
<circle cx="558.04" cy="552.13" r="2.1" fill="#7a1fc4"/>
<circle cx="562.96" cy="549.91" r="2.1" fill="#7a1fc4"/>
<circle cx="567.88" cy="542.62" r="2.1" fill="#7a1fc4"/>
<circle cx="572.80" cy="540.72" r="2.1" fill="#7a1fc4"/>
<circle cx="577.72" cy="540.72" r="2.1" fill="#7a1fc4"/>
<circle cx="582.64" cy="540.09" r="2.1" fill="#7a1fc4"/>
<circle cx="587.56" cy="535.02" r="2.1" fill="#7a1fc4"/>
<circle cx="592.48" cy="526.78" r="2.1" fill="#7a1fc4"/>
<circle cx="597.40" cy="525.20" r="2.1" fill="#7a1fc4"/>
<circle cx="602.32" cy="525.20" r="2.1" fill="#7a1fc4"/>
<circle cx="607.24" cy="520.76" r="2.1" fill="#7a1fc4"/>
<circle cx="612.16" cy="513.16" r="2.1" fill="#7a1fc4"/>
<circle cx="617.08" cy="512.53" r="2.1" fill="#7a1fc4"/>
<circle cx="622.00" cy="508.41" r="2.1" fill="#7a1fc4"/>
<polyline points="400.60,604.40 405.52,604.40 410.44,604.40 415.36,604.40 420.28,604.40 425.20,604.40 430.12,604.24 435.04,604.08 439.96,603.13 444.88,601.87 449.80,600.92 454.72,600.92 459.64,599.65 464.56,594.58 469.48,593.95 474.40,593.00 479.32,593.00 484.24,592.04 489.16,588.88 494.08,587.29 499.00,586.34 503.92,585.08 508.84,585.39 513.76,583.17 518.68,576.52 523.60,574.94 528.52,574.94 533.44,574.30 538.36,569.24 543.28,559.73 548.20,558.46 553.12,558.46 558.04,558.15 562.96,549.91 567.88,536.29 572.80,535.02 577.72,535.02 582.64,534.39 587.56,522.35 592.48,505.88 597.40,504.29 602.32,504.29 607.24,494.47 612.16,480.53 617.08,479.90 622.00,472.61" fill="none" stroke="#8f9ad0" stroke-width="0.7"/>
<path d="M400.60,601.80L402.90,606.10L398.30,606.10Z" fill="#14149a"/>
<path d="M405.52,601.80L407.82,606.10L403.22,606.10Z" fill="#14149a"/>
<path d="M410.44,601.80L412.74,606.10L408.14,606.10Z" fill="#14149a"/>
<path d="M415.36,601.80L417.66,606.10L413.06,606.10Z" fill="#14149a"/>
<path d="M420.28,601.80L422.58,606.10L417.98,606.10Z" fill="#14149a"/>
<path d="M425.20,601.80L427.50,606.10L422.90,606.10Z" fill="#14149a"/>
<path d="M430.12,601.64L432.42,605.94L427.82,605.94Z" fill="#14149a"/>
<path d="M435.04,601.48L437.34,605.78L432.74,605.78Z" fill="#14149a"/>
<path d="M439.96,600.53L442.26,604.83L437.66,604.83Z" fill="#14149a"/>
<path d="M444.88,599.27L447.18,603.57L442.58,603.57Z" fill="#14149a"/>
<path d="M449.80,598.32L452.10,602.62L447.50,602.62Z" fill="#14149a"/>
<path d="M454.72,598.32L457.02,602.62L452.42,602.62Z" fill="#14149a"/>
<path d="M459.64,597.05L461.94,601.35L457.34,601.35Z" fill="#14149a"/>
<path d="M464.56,591.98L466.86,596.28L462.26,596.28Z" fill="#14149a"/>
<path d="M469.48,591.35L471.78,595.65L467.18,595.65Z" fill="#14149a"/>
<path d="M474.40,590.40L476.70,594.70L472.10,594.70Z" fill="#14149a"/>
<path d="M479.32,590.40L481.62,594.70L477.02,594.70Z" fill="#14149a"/>
<path d="M484.24,589.44L486.54,593.74L481.94,593.74Z" fill="#14149a"/>
<path d="M489.16,586.28L491.46,590.58L486.86,590.58Z" fill="#14149a"/>
<path d="M494.08,584.69L496.38,588.99L491.78,588.99Z" fill="#14149a"/>
<path d="M499.00,583.74L501.30,588.04L496.70,588.04Z" fill="#14149a"/>
<path d="M503.92,582.48L506.22,586.78L501.62,586.78Z" fill="#14149a"/>
<path d="M508.84,582.79L511.14,587.09L506.54,587.09Z" fill="#14149a"/>
<path d="M513.76,580.57L516.06,584.87L511.46,584.87Z" fill="#14149a"/>
<path d="M518.68,573.92L520.98,578.22L516.38,578.22Z" fill="#14149a"/>
<path d="M523.60,572.34L525.90,576.64L521.30,576.64Z" fill="#14149a"/>
<path d="M528.52,572.34L530.82,576.64L526.22,576.64Z" fill="#14149a"/>
<path d="M533.44,571.70L535.74,576.00L531.14,576.00Z" fill="#14149a"/>
<path d="M538.36,566.64L540.66,570.94L536.06,570.94Z" fill="#14149a"/>
<path d="M543.28,557.13L545.58,561.43L540.98,561.43Z" fill="#14149a"/>
<path d="M548.20,555.86L550.50,560.16L545.90,560.16Z" fill="#14149a"/>
<path d="M553.12,555.86L555.42,560.16L550.82,560.16Z" fill="#14149a"/>
<path d="M558.04,555.55L560.34,559.85L555.74,559.85Z" fill="#14149a"/>
<path d="M562.96,547.31L565.26,551.61L560.66,551.61Z" fill="#14149a"/>
<path d="M567.88,533.69L570.18,537.99L565.58,537.99Z" fill="#14149a"/>
<path d="M572.80,532.42L575.10,536.72L570.50,536.72Z" fill="#14149a"/>
<path d="M577.72,532.42L580.02,536.72L575.42,536.72Z" fill="#14149a"/>
<path d="M582.64,531.79L584.94,536.09L580.34,536.09Z" fill="#14149a"/>
<path d="M587.56,519.75L589.86,524.05L585.26,524.05Z" fill="#14149a"/>
<path d="M592.48,503.28L594.78,507.58L590.18,507.58Z" fill="#14149a"/>
<path d="M597.40,501.69L599.70,505.99L595.10,505.99Z" fill="#14149a"/>
<path d="M602.32,501.69L604.62,505.99L600.02,505.99Z" fill="#14149a"/>
<path d="M607.24,491.87L609.54,496.17L604.94,496.17Z" fill="#14149a"/>
<path d="M612.16,477.93L614.46,482.23L609.86,482.23Z" fill="#14149a"/>
<path d="M617.08,477.30L619.38,481.60L614.78,481.60Z" fill="#14149a"/>
<path d="M622.00,470.01L624.30,474.31L619.70,474.31Z" fill="#14149a"/>
<rect x="429.4" y="491.3" width="69.5" height="31.999999999999943" fill="#fff" stroke="#8a8a8a" stroke-width="0.9"/>
<line x1="432" y1="496.8" x2="452.6" y2="496.8" stroke="#8a8a8a" stroke-width="0.8"/>
<rect x="440.50" y="495.00" width="3.6" height="3.6" fill="#000"/>
<text x="455.4" y="499.70" font-size="8.2" fill="#222" text-anchor="start" textLength="40.3" lengthAdjust="spacingAndGlyphs" >element A</text>
<line x1="432" y1="507.9" x2="452.6" y2="507.9" stroke="#b58ae0" stroke-width="0.8"/>
<circle cx="442.30" cy="507.90" r="2.1" fill="#7a1fc4"/>
<text x="455.4" y="510.80" font-size="8.2" fill="#222" text-anchor="start" textLength="40.3" lengthAdjust="spacingAndGlyphs" >element B</text>
<line x1="432" y1="518.7" x2="452.6" y2="518.7" stroke="#8f9ad0" stroke-width="0.8"/>
<path d="M442.30,516.10L444.60,520.40L440.00,520.40Z" fill="#14149a"/>
<text x="455.4" y="521.60" font-size="8.2" fill="#222" text-anchor="start" textLength="40.3" lengthAdjust="spacingAndGlyphs" >element C</text>
</g>
<rect x="79.1" y="89.7" width="49.5" height="53.999999999999986" fill="#fff" stroke="#9a9a9a" stroke-width="1"/>
<text x="90" y="99.6" font-size="4.8" fill="#444" font-family='"Liberation Sans",sans-serif'>S11</text>
<rect x="83.4" y="108.00" width="6.5" height="4.43" fill="#ed1010"/>
<rect x="83.4" y="112.38" width="6.5" height="4.43" fill="#eda310"/>
<rect x="83.4" y="116.76" width="6.5" height="4.43" fill="#a3ed10"/>
<rect x="83.4" y="121.14" width="6.5" height="4.43" fill="#10ed10"/>
<rect x="83.4" y="125.51" width="6.5" height="4.43" fill="#10eda3"/>
<rect x="83.4" y="129.89" width="6.5" height="4.43" fill="#10a3ed"/>
<rect x="83.4" y="134.27" width="6.5" height="4.43" fill="#1010ed"/>
<line x1="83.4" y1="112.38" x2="91.7" y2="112.38" stroke="#000" stroke-opacity="0.35" stroke-width="0.6"/>
<line x1="83.4" y1="116.76" x2="91.7" y2="116.76" stroke="#000" stroke-opacity="0.35" stroke-width="0.6"/>
<line x1="83.4" y1="121.14" x2="91.7" y2="121.14" stroke="#000" stroke-opacity="0.35" stroke-width="0.6"/>
<line x1="83.4" y1="125.51" x2="91.7" y2="125.51" stroke="#000" stroke-opacity="0.35" stroke-width="0.6"/>
<line x1="83.4" y1="129.89" x2="91.7" y2="129.89" stroke="#000" stroke-opacity="0.35" stroke-width="0.6"/>
<line x1="83.4" y1="134.27" x2="91.7" y2="134.27" stroke="#000" stroke-opacity="0.35" stroke-width="0.6"/>
<text x="94.20" y="109.70" transform="rotate(0.4 94.20 109.70)" font-size="4.3" font-weight="bold" fill="#3a3a3a" font-family='"Liberation Sans",sans-serif' textLength="26" lengthAdjust="spacingAndGlyphs">+6.717e+02</text>
<text x="94.20" y="114.08" transform="rotate(0.4 94.20 114.08)" font-size="4.3" font-weight="bold" fill="#3a3a3a" font-family='"Liberation Sans",sans-serif' textLength="26" lengthAdjust="spacingAndGlyphs">+4.231e+02</text>
<text x="94.20" y="118.46" transform="rotate(0.4 94.20 118.46)" font-size="4.3" font-weight="bold" fill="#3a3a3a" font-family='"Liberation Sans",sans-serif' textLength="26" lengthAdjust="spacingAndGlyphs">+1.746e+02</text>
<text x="94.20" y="122.84" transform="rotate(0.4 94.20 122.84)" font-size="4.3" font-weight="bold" fill="#3a3a3a" font-family='"Liberation Sans",sans-serif' textLength="26" lengthAdjust="spacingAndGlyphs">-7.392e+01</text>
<text x="94.20" y="127.21" transform="rotate(0.4 94.20 127.21)" font-size="4.3" font-weight="bold" fill="#3a3a3a" font-family='"Liberation Sans",sans-serif' textLength="26" lengthAdjust="spacingAndGlyphs">-3.224e+02</text>
<text x="94.20" y="131.59" transform="rotate(0.4 94.20 131.59)" font-size="4.3" font-weight="bold" fill="#3a3a3a" font-family='"Liberation Sans",sans-serif' textLength="26" lengthAdjust="spacingAndGlyphs">-5.710e+02</text>
<text x="94.20" y="135.97" transform="rotate(0.4 94.20 135.97)" font-size="4.3" font-weight="bold" fill="#3a3a3a" font-family='"Liberation Sans",sans-serif' textLength="26" lengthAdjust="spacingAndGlyphs">-8.195e+02</text>
<text x="94.20" y="140.35" transform="rotate(0.4 94.20 140.35)" font-size="4.3" font-weight="bold" fill="#3a3a3a" font-family='"Liberation Sans",sans-serif' textLength="26" lengthAdjust="spacingAndGlyphs">-1.068e+03</text>
<rect x="166.25" y="92" width="49.25" height="85.5" fill="#fff" stroke="#9a9a9a" stroke-width="1"/>
<text x="177.2" y="101.6" font-size="4.8" fill="#444" font-family='"Liberation Sans",sans-serif'>S22</text>
<rect x="170.9" y="110.10" width="6.599999999999994" height="4.28" fill="#ed1010"/>
<rect x="170.9" y="114.33" width="6.599999999999994" height="4.28" fill="#ed4f10"/>
<rect x="170.9" y="118.57" width="6.599999999999994" height="4.28" fill="#ed8e10"/>
<rect x="170.9" y="122.80" width="6.599999999999994" height="4.28" fill="#edcd10"/>
<rect x="170.9" y="127.03" width="6.599999999999994" height="4.28" fill="#cded10"/>
<rect x="170.9" y="131.27" width="6.599999999999994" height="4.28" fill="#8eed10"/>
<rect x="170.9" y="135.50" width="6.599999999999994" height="4.28" fill="#4fed10"/>
<rect x="170.9" y="139.73" width="6.599999999999994" height="4.28" fill="#10ed10"/>
<rect x="170.9" y="143.97" width="6.599999999999994" height="4.28" fill="#10ed4f"/>
<rect x="170.9" y="148.20" width="6.599999999999994" height="4.28" fill="#10ed8e"/>
<rect x="170.9" y="152.43" width="6.599999999999994" height="4.28" fill="#10edcd"/>
<rect x="170.9" y="156.67" width="6.599999999999994" height="4.28" fill="#10cded"/>
<rect x="170.9" y="160.90" width="6.599999999999994" height="4.28" fill="#108eed"/>
<rect x="170.9" y="165.13" width="6.599999999999994" height="4.28" fill="#104fed"/>
<rect x="170.9" y="169.37" width="6.599999999999994" height="4.28" fill="#1010ed"/>
<line x1="170.9" y1="114.33" x2="179.3" y2="114.33" stroke="#000" stroke-opacity="0.35" stroke-width="0.6"/>
<line x1="170.9" y1="118.57" x2="179.3" y2="118.57" stroke="#000" stroke-opacity="0.35" stroke-width="0.6"/>
<line x1="170.9" y1="122.80" x2="179.3" y2="122.80" stroke="#000" stroke-opacity="0.35" stroke-width="0.6"/>
<line x1="170.9" y1="127.03" x2="179.3" y2="127.03" stroke="#000" stroke-opacity="0.35" stroke-width="0.6"/>
<line x1="170.9" y1="131.27" x2="179.3" y2="131.27" stroke="#000" stroke-opacity="0.35" stroke-width="0.6"/>
<line x1="170.9" y1="135.50" x2="179.3" y2="135.50" stroke="#000" stroke-opacity="0.35" stroke-width="0.6"/>
<line x1="170.9" y1="139.73" x2="179.3" y2="139.73" stroke="#000" stroke-opacity="0.35" stroke-width="0.6"/>
<line x1="170.9" y1="143.97" x2="179.3" y2="143.97" stroke="#000" stroke-opacity="0.35" stroke-width="0.6"/>
<line x1="170.9" y1="148.20" x2="179.3" y2="148.20" stroke="#000" stroke-opacity="0.35" stroke-width="0.6"/>
<line x1="170.9" y1="152.43" x2="179.3" y2="152.43" stroke="#000" stroke-opacity="0.35" stroke-width="0.6"/>
<line x1="170.9" y1="156.67" x2="179.3" y2="156.67" stroke="#000" stroke-opacity="0.35" stroke-width="0.6"/>
<line x1="170.9" y1="160.90" x2="179.3" y2="160.90" stroke="#000" stroke-opacity="0.35" stroke-width="0.6"/>
<line x1="170.9" y1="165.13" x2="179.3" y2="165.13" stroke="#000" stroke-opacity="0.35" stroke-width="0.6"/>
<line x1="170.9" y1="169.37" x2="179.3" y2="169.37" stroke="#000" stroke-opacity="0.35" stroke-width="0.6"/>
<text x="181.80" y="111.80" transform="rotate(0.4 181.80 111.80)" font-size="4.3" font-weight="bold" fill="#3a3a3a" font-family='"Liberation Sans",sans-serif' textLength="26" lengthAdjust="spacingAndGlyphs">+5.553e+02</text>
<text x="181.80" y="116.03" transform="rotate(0.4 181.80 116.03)" font-size="4.3" font-weight="bold" fill="#3a3a3a" font-family='"Liberation Sans",sans-serif' textLength="26" lengthAdjust="spacingAndGlyphs">+4.353e+02</text>
<text x="181.80" y="120.27" transform="rotate(0.4 181.80 120.27)" font-size="4.3" font-weight="bold" fill="#3a3a3a" font-family='"Liberation Sans",sans-serif' textLength="26" lengthAdjust="spacingAndGlyphs">+3.154e+02</text>
<text x="181.80" y="124.50" transform="rotate(0.4 181.80 124.50)" font-size="4.3" font-weight="bold" fill="#3a3a3a" font-family='"Liberation Sans",sans-serif' textLength="26" lengthAdjust="spacingAndGlyphs">+1.954e+02</text>
<text x="181.80" y="128.73" transform="rotate(0.4 181.80 128.73)" font-size="4.3" font-weight="bold" fill="#3a3a3a" font-family='"Liberation Sans",sans-serif' textLength="26" lengthAdjust="spacingAndGlyphs">+7.539e+01</text>
<text x="181.80" y="132.97" transform="rotate(0.4 181.80 132.97)" font-size="4.3" font-weight="bold" fill="#3a3a3a" font-family='"Liberation Sans",sans-serif' textLength="26" lengthAdjust="spacingAndGlyphs">-4.459e+01</text>
<text x="181.80" y="137.20" transform="rotate(0.4 181.80 137.20)" font-size="4.3" font-weight="bold" fill="#3a3a3a" font-family='"Liberation Sans",sans-serif' textLength="26" lengthAdjust="spacingAndGlyphs">-1.646e+02</text>
<text x="181.80" y="141.43" transform="rotate(0.4 181.80 141.43)" font-size="4.3" font-weight="bold" fill="#3a3a3a" font-family='"Liberation Sans",sans-serif' textLength="26" lengthAdjust="spacingAndGlyphs">-2.846e+02</text>
<text x="181.80" y="145.67" transform="rotate(0.4 181.80 145.67)" font-size="4.3" font-weight="bold" fill="#3a3a3a" font-family='"Liberation Sans",sans-serif' textLength="26" lengthAdjust="spacingAndGlyphs">-4.045e+02</text>
<text x="181.80" y="149.90" transform="rotate(0.4 181.80 149.90)" font-size="4.3" font-weight="bold" fill="#3a3a3a" font-family='"Liberation Sans",sans-serif' textLength="26" lengthAdjust="spacingAndGlyphs">-5.245e+02</text>
<text x="181.80" y="154.13" transform="rotate(0.4 181.80 154.13)" font-size="4.3" font-weight="bold" fill="#3a3a3a" font-family='"Liberation Sans",sans-serif' textLength="26" lengthAdjust="spacingAndGlyphs">-6.445e+02</text>
<text x="181.80" y="158.37" transform="rotate(0.4 181.80 158.37)" font-size="4.3" font-weight="bold" fill="#3a3a3a" font-family='"Liberation Sans",sans-serif' textLength="26" lengthAdjust="spacingAndGlyphs">-7.645e+02</text>
<text x="181.80" y="162.60" transform="rotate(0.4 181.80 162.60)" font-size="4.3" font-weight="bold" fill="#3a3a3a" font-family='"Liberation Sans",sans-serif' textLength="26" lengthAdjust="spacingAndGlyphs">-8.845e+02</text>
<text x="181.80" y="166.83" transform="rotate(0.4 181.80 166.83)" font-size="4.3" font-weight="bold" fill="#3a3a3a" font-family='"Liberation Sans",sans-serif' textLength="26" lengthAdjust="spacingAndGlyphs">-1.004e+03</text>
<text x="181.80" y="171.07" transform="rotate(0.4 181.80 171.07)" font-size="4.3" font-weight="bold" fill="#3a3a3a" font-family='"Liberation Sans",sans-serif' textLength="26" lengthAdjust="spacingAndGlyphs">-1.124e+03</text>
<text x="181.80" y="175.30" transform="rotate(0.4 181.80 175.30)" font-size="4.3" font-weight="bold" fill="#3a3a3a" font-family='"Liberation Sans",sans-serif' textLength="26" lengthAdjust="spacingAndGlyphs">-1.244e+03</text>
<rect x="256.25" y="94" width="49.55000000000001" height="77.69999999999999" fill="#fff" stroke="#9a9a9a" stroke-width="1"/>
<text x="267.2" y="103.4" font-size="4.8" fill="#444" font-family='"Liberation Sans",sans-serif'>S33</text>
<rect x="261" y="112.30" width="6.5" height="4.32" fill="#ed1010"/>
<rect x="261" y="116.57" width="6.5" height="4.32" fill="#ed5a10"/>
<rect x="261" y="120.84" width="6.5" height="4.32" fill="#eda310"/>
<rect x="261" y="125.11" width="6.5" height="4.32" fill="#eded10"/>
<rect x="261" y="129.38" width="6.5" height="4.32" fill="#a3ed10"/>
<rect x="261" y="133.65" width="6.5" height="4.32" fill="#5aed10"/>
<rect x="261" y="137.92" width="6.5" height="4.32" fill="#10ed10"/>
<rect x="261" y="142.18" width="6.5" height="4.32" fill="#10ed5a"/>
<rect x="261" y="146.45" width="6.5" height="4.32" fill="#10eda3"/>
<rect x="261" y="150.72" width="6.5" height="4.32" fill="#10eded"/>
<rect x="261" y="154.99" width="6.5" height="4.32" fill="#10a3ed"/>
<rect x="261" y="159.26" width="6.5" height="4.32" fill="#105aed"/>
<rect x="261" y="163.53" width="6.5" height="4.32" fill="#1010ed"/>
<line x1="261" y1="116.57" x2="269.3" y2="116.57" stroke="#000" stroke-opacity="0.35" stroke-width="0.6"/>
<line x1="261" y1="120.84" x2="269.3" y2="120.84" stroke="#000" stroke-opacity="0.35" stroke-width="0.6"/>
<line x1="261" y1="125.11" x2="269.3" y2="125.11" stroke="#000" stroke-opacity="0.35" stroke-width="0.6"/>
<line x1="261" y1="129.38" x2="269.3" y2="129.38" stroke="#000" stroke-opacity="0.35" stroke-width="0.6"/>
<line x1="261" y1="133.65" x2="269.3" y2="133.65" stroke="#000" stroke-opacity="0.35" stroke-width="0.6"/>
<line x1="261" y1="137.92" x2="269.3" y2="137.92" stroke="#000" stroke-opacity="0.35" stroke-width="0.6"/>
<line x1="261" y1="142.18" x2="269.3" y2="142.18" stroke="#000" stroke-opacity="0.35" stroke-width="0.6"/>
<line x1="261" y1="146.45" x2="269.3" y2="146.45" stroke="#000" stroke-opacity="0.35" stroke-width="0.6"/>
<line x1="261" y1="150.72" x2="269.3" y2="150.72" stroke="#000" stroke-opacity="0.35" stroke-width="0.6"/>
<line x1="261" y1="154.99" x2="269.3" y2="154.99" stroke="#000" stroke-opacity="0.35" stroke-width="0.6"/>
<line x1="261" y1="159.26" x2="269.3" y2="159.26" stroke="#000" stroke-opacity="0.35" stroke-width="0.6"/>
<line x1="261" y1="163.53" x2="269.3" y2="163.53" stroke="#000" stroke-opacity="0.35" stroke-width="0.6"/>
<text x="271.80" y="114.00" transform="rotate(0.4 271.80 114.00)" font-size="4.3" font-weight="bold" fill="#3a3a3a" font-family='"Liberation Sans",sans-serif' textLength="26" lengthAdjust="spacingAndGlyphs">+5.677e+02</text>
<text x="271.80" y="118.27" transform="rotate(0.4 271.80 118.27)" font-size="4.3" font-weight="bold" fill="#3a3a3a" font-family='"Liberation Sans",sans-serif' textLength="26" lengthAdjust="spacingAndGlyphs">+4.344e+02</text>
<text x="271.80" y="122.54" transform="rotate(0.4 271.80 122.54)" font-size="4.3" font-weight="bold" fill="#3a3a3a" font-family='"Liberation Sans",sans-serif' textLength="26" lengthAdjust="spacingAndGlyphs">+3.011e+02</text>
<text x="271.80" y="126.81" transform="rotate(0.4 271.80 126.81)" font-size="4.3" font-weight="bold" fill="#3a3a3a" font-family='"Liberation Sans",sans-serif' textLength="26" lengthAdjust="spacingAndGlyphs">+1.677e+02</text>
<text x="271.80" y="131.08" transform="rotate(0.4 271.80 131.08)" font-size="4.3" font-weight="bold" fill="#3a3a3a" font-family='"Liberation Sans",sans-serif' textLength="26" lengthAdjust="spacingAndGlyphs">+3.441e+01</text>
<text x="271.80" y="135.35" transform="rotate(0.4 271.80 135.35)" font-size="4.3" font-weight="bold" fill="#3a3a3a" font-family='"Liberation Sans",sans-serif' textLength="26" lengthAdjust="spacingAndGlyphs">-9.892e+01</text>
<text x="271.80" y="139.62" transform="rotate(0.4 271.80 139.62)" font-size="4.3" font-weight="bold" fill="#3a3a3a" font-family='"Liberation Sans",sans-serif' textLength="26" lengthAdjust="spacingAndGlyphs">-2.323e+02</text>
<text x="271.80" y="143.88" transform="rotate(0.4 271.80 143.88)" font-size="4.3" font-weight="bold" fill="#3a3a3a" font-family='"Liberation Sans",sans-serif' textLength="26" lengthAdjust="spacingAndGlyphs">-3.656e+02</text>
<text x="271.80" y="148.15" transform="rotate(0.4 271.80 148.15)" font-size="4.3" font-weight="bold" fill="#3a3a3a" font-family='"Liberation Sans",sans-serif' textLength="26" lengthAdjust="spacingAndGlyphs">-4.989e+02</text>
<text x="271.80" y="152.42" transform="rotate(0.4 271.80 152.42)" font-size="4.3" font-weight="bold" fill="#3a3a3a" font-family='"Liberation Sans",sans-serif' textLength="26" lengthAdjust="spacingAndGlyphs">-6.322e+02</text>
<text x="271.80" y="156.69" transform="rotate(0.4 271.80 156.69)" font-size="4.3" font-weight="bold" fill="#3a3a3a" font-family='"Liberation Sans",sans-serif' textLength="26" lengthAdjust="spacingAndGlyphs">-7.656e+02</text>
<text x="271.80" y="160.96" transform="rotate(0.4 271.80 160.96)" font-size="4.3" font-weight="bold" fill="#3a3a3a" font-family='"Liberation Sans",sans-serif' textLength="26" lengthAdjust="spacingAndGlyphs">-8.989e+02</text>
<text x="271.80" y="165.23" transform="rotate(0.4 271.80 165.23)" font-size="4.3" font-weight="bold" fill="#3a3a3a" font-family='"Liberation Sans",sans-serif' textLength="26" lengthAdjust="spacingAndGlyphs">-1.032e+03</text>
<text x="271.80" y="169.50" transform="rotate(0.4 271.80 169.50)" font-size="4.3" font-weight="bold" fill="#3a3a3a" font-family='"Liberation Sans",sans-serif' textLength="26" lengthAdjust="spacingAndGlyphs">-1.166e+03</text>
<rect x="136.5" y="191" width="25.80000000000001" height="69.19999999999999" fill="#80bf00"/>
<path d="M136.60,90.40 L148.60,92.60 L162.30,88.60 Q157.70,89.60 157.70,96.45 Q157.70,103.30 162.30,104.30 Q157.70,105.30 157.70,111.95 Q157.70,118.60 162.30,119.60 Q157.70,120.60 157.70,127.25 Q157.70,133.90 162.30,134.90 Q157.70,135.90 157.70,142.55 Q157.70,149.20 162.30,150.20 Q157.70,151.20 157.70,157.85 Q157.70,164.50 162.30,165.50 Q157.70,166.50 157.70,173.15 Q157.70,179.80 162.30,180.80 Q157.70,181.80 157.70,188.40 Q157.70,195.00 162.30,196.00 L136.50,196.00 Q140.20,195.00 140.20,192.60 Q140.20,190.20 135.40,189.20 Q140.20,188.20 140.20,181.55 Q140.20,174.90 135.40,173.90 Q140.20,172.90 140.20,166.25 Q140.20,159.60 135.40,158.60 Q140.20,157.60 140.20,150.95 Q140.20,144.30 135.40,143.30 Q140.20,142.30 140.20,135.65 Q140.20,129.00 135.40,128.00 Q140.20,127.00 140.20,120.35 Q140.20,113.70 135.40,112.70 Q140.20,111.70 140.20,105.05 Q140.20,98.40 135.40,97.40 Q140.20,96.40 140.20,93.90 Q140.20,91.40 136.60,90.40 Z" fill="#14c014"/>
<path d="M137.93,91.60 L148.60,93.80 L160.97,89.80 Q152.57,90.80 152.57,97.05 Q152.57,103.30 160.97,104.30 Q152.57,105.30 152.57,111.95 Q152.57,118.60 160.97,119.60 Q152.57,120.60 152.57,127.25 Q152.57,133.90 160.97,134.90 Q152.57,135.90 152.57,142.55 Q152.57,149.20 160.97,150.20 Q152.57,151.20 152.57,157.85 Q152.57,164.50 160.97,165.50 Q152.57,166.50 152.57,173.15 Q152.57,179.80 160.97,180.80 Q152.57,181.80 152.57,188.40 Q152.57,195.00 159.26,196.00 L139.54,196.00 Q145.33,195.00 145.33,192.60 Q145.33,190.20 136.73,189.20 Q145.33,188.20 145.33,181.55 Q145.33,174.90 136.73,173.90 Q145.33,172.90 145.33,166.25 Q145.33,159.60 136.73,158.60 Q145.33,157.60 145.33,150.95 Q145.33,144.30 136.73,143.30 Q145.33,142.30 145.33,135.65 Q145.33,129.00 136.73,128.00 Q145.33,127.00 145.33,120.35 Q145.33,113.70 136.73,112.70 Q145.33,111.70 145.33,105.05 Q145.33,98.40 136.73,97.40 Q145.33,96.40 145.33,94.50 Q145.33,92.60 137.93,91.60 Z" fill="#8cc408"/>
<ellipse cx="148.4" cy="115.5" rx="1.1" ry="1.1" fill="#d0800c" opacity="0.7"/><ellipse cx="149.2" cy="146.5" rx="1.9" ry="5.2" fill="#c88a04" opacity="0.8"/><ellipse cx="148.9" cy="160.5" rx="1.5" ry="3.6" fill="#c88a04" opacity="0.7"/>
<rect x="223.3" y="194.4" width="26.099999999999994" height="65.20000000000002" fill="#adc600"/>
<path d="M223.40,92.40 L236.30,94.30 L250.00,90.80 Q245.40,91.80 245.40,98.80 Q245.40,105.80 250.00,106.80 Q245.40,107.80 245.40,114.45 Q245.40,121.10 250.00,122.10 Q245.40,123.10 245.40,129.75 Q245.40,136.40 250.00,137.40 Q245.40,138.40 245.40,145.05 Q245.40,151.70 250.00,152.70 Q245.40,153.70 245.40,160.35 Q245.40,167.00 250.00,168.00 Q245.40,169.00 245.40,175.65 Q245.40,182.30 250.00,183.30 Q245.40,184.30 245.40,189.65 Q245.40,195.00 249.40,196.00 L223.30,196.00 Q227.00,195.00 227.00,193.85 Q227.00,192.70 222.20,191.70 Q227.00,190.70 227.00,184.05 Q227.00,177.40 222.20,176.40 Q227.00,175.40 227.00,168.75 Q227.00,162.10 222.20,161.10 Q227.00,160.10 227.00,153.45 Q227.00,146.80 222.20,145.80 Q227.00,144.80 227.00,138.15 Q227.00,131.50 222.20,130.50 Q227.00,129.50 227.00,122.85 Q227.00,116.20 222.20,115.20 Q227.00,114.20 227.00,107.55 Q227.00,100.90 222.20,99.90 Q227.00,98.90 227.00,96.15 Q227.00,93.40 223.40,92.40 Z" fill="#48c41e"/>
<path d="M224.17,93.60 L236.30,95.50 L248.88,92.00 Q241.08,93.00 241.08,99.40 Q241.08,105.80 248.88,106.80 Q241.08,107.80 241.08,114.45 Q241.08,121.10 248.88,122.10 Q241.08,123.10 241.08,129.75 Q241.08,136.40 248.88,137.40 Q241.08,138.40 241.08,145.05 Q241.08,151.70 248.88,152.70 Q241.08,153.70 241.08,160.35 Q241.08,167.00 248.88,168.00 Q241.08,169.00 241.08,175.65 Q241.08,182.30 248.88,183.30 Q241.08,184.30 241.08,189.65 Q241.08,195.00 246.84,196.00 L225.06,196.00 Q229.97,195.00 229.97,193.85 Q229.97,192.70 222.97,191.70 Q229.97,190.70 229.97,184.05 Q229.97,177.40 222.97,176.40 Q229.97,175.40 229.97,168.75 Q229.97,162.10 222.97,161.10 Q229.97,160.10 229.97,153.45 Q229.97,146.80 222.97,145.80 Q229.97,144.80 229.97,138.15 Q229.97,131.50 222.97,130.50 Q229.97,129.50 229.97,122.85 Q229.97,116.20 222.97,115.20 Q229.97,114.20 229.97,107.55 Q229.97,100.90 222.97,99.90 Q229.97,98.90 229.97,96.75 Q229.97,94.60 224.17,93.60 Z" fill="#6cc61c"/>
<path d="M225.32,93.60 L236.30,95.50 L247.55,92.00 Q235.95,93.00 235.95,99.40 Q235.95,105.80 247.55,106.80 Q235.95,107.80 235.95,114.45 Q235.95,121.10 247.55,122.10 Q235.95,123.10 235.95,129.75 Q235.95,136.40 247.55,137.40 Q235.95,138.40 235.95,145.05 Q235.95,151.70 247.55,152.70 Q235.95,153.70 235.95,160.35 Q235.95,167.00 247.55,168.00 Q235.95,169.00 235.95,175.65 Q235.95,182.30 247.55,183.30 Q235.95,184.30 235.95,189.65 Q235.95,195.00 243.80,196.00 L227.70,196.00 Q234.43,195.00 234.43,193.85 Q234.43,192.70 224.12,191.70 Q234.43,190.70 234.43,184.05 Q234.43,177.40 224.12,176.40 Q234.43,175.40 234.43,168.75 Q234.43,162.10 224.12,161.10 Q234.43,160.10 234.43,153.45 Q234.43,146.80 224.12,145.80 Q234.43,144.80 234.43,138.15 Q234.43,131.50 224.12,130.50 Q234.43,129.50 234.43,122.85 Q234.43,116.20 224.12,115.20 Q234.43,114.20 234.43,107.55 Q234.43,100.90 224.12,99.90 Q234.43,98.90 234.43,96.75 Q234.43,94.60 225.32,93.60 Z" fill="#a8c600"/>
<path d="M231,110 Q236,140 233,185 L238,185 Q241,140 238,104 Z" fill="#b6c200" opacity="0.55"/><path d="M223.3,194.4 L249.4,194.4 L249.4,200 Q243,203 240,199 Q236,206 231,200 Q227,203 223.3,201 Z" fill="#6cc61c"/><ellipse cx="249" cy="211" rx="1.2" ry="3.5" fill="#6cc61c"/><ellipse cx="224" cy="240" rx="1.1" ry="3" fill="#8ec410"/>
<rect x="314" y="194.4" width="26.600000000000023" height="68.6" fill="#7cbf00"/>
<path d="M314.20,95.50 L326.50,96.50 L341.00,92.80 Q336.40,93.80 336.40,100.60 Q336.40,107.40 341.00,108.40 Q336.40,109.40 336.40,116.05 Q336.40,122.70 341.00,123.70 Q336.40,124.70 336.40,131.35 Q336.40,138.00 341.00,139.00 Q336.40,140.00 336.40,146.65 Q336.40,153.30 341.00,154.30 Q336.40,155.30 336.40,161.95 Q336.40,168.60 341.00,169.60 Q336.40,170.60 336.40,177.25 Q336.40,183.90 341.00,184.90 Q336.40,185.90 336.40,190.45 Q336.40,195.00 340.60,196.00 L314.00,196.00 Q317.80,195.00 317.80,194.20 Q317.80,193.40 313.00,192.40 Q317.80,191.40 317.80,184.75 Q317.80,178.10 313.00,177.10 Q317.80,176.10 317.80,169.45 Q317.80,162.80 313.00,161.80 Q317.80,160.80 317.80,154.15 Q317.80,147.50 313.00,146.50 Q317.80,145.50 317.80,138.85 Q317.80,132.20 313.00,131.20 Q317.80,130.20 317.80,123.55 Q317.80,116.90 313.00,115.90 Q317.80,114.90 317.80,108.25 Q317.80,101.60 313.00,100.60 Q317.80,99.60 317.80,98.05 Q317.80,96.50 314.20,95.50 Z" fill="#5ec41c"/>
<path d="M315.25,96.70 L326.50,97.70 L339.95,94.00 Q332.35,95.00 332.35,101.20 Q332.35,107.40 339.95,108.40 Q332.35,109.40 332.35,116.05 Q332.35,122.70 339.95,123.70 Q332.35,124.70 332.35,131.35 Q332.35,138.00 339.95,139.00 Q332.35,140.00 332.35,146.65 Q332.35,153.30 339.95,154.30 Q332.35,155.30 332.35,161.95 Q332.35,168.60 339.95,169.60 Q332.35,170.60 332.35,177.25 Q332.35,183.90 339.95,184.90 Q332.35,185.90 332.35,190.45 Q332.35,195.00 338.20,196.00 L316.40,196.00 Q321.85,195.00 321.85,194.20 Q321.85,193.40 314.05,192.40 Q321.85,191.40 321.85,184.75 Q321.85,178.10 314.05,177.10 Q321.85,176.10 321.85,169.45 Q321.85,162.80 314.05,161.80 Q321.85,160.80 321.85,154.15 Q321.85,147.50 314.05,146.50 Q321.85,145.50 321.85,138.85 Q321.85,132.20 314.05,131.20 Q321.85,130.20 321.85,123.55 Q321.85,116.90 314.05,115.90 Q321.85,114.90 321.85,108.25 Q321.85,101.60 314.05,100.60 Q321.85,99.60 321.85,98.65 Q321.85,97.70 315.25,96.70 Z" fill="#72c416"/>
<path d="M314,194.4 L340.6,194.4 L340.6,204 Q336,212 332,205 Q327,214 322,206 Q318,212 314,208 Z" fill="#72c416"/><path d="M322.8,97.5 Q326,95.5 330,97.5 Q328.5,140 330.5,184 Q333,190 333.5,196 L322.5,196 Q323,190 321.8,186 Q323.5,140 322.8,97.5 Z" fill="#c4c400"/><path d="M324,194 L333.5,193 Q337,195 340.6,198 L340.6,211 Q338.5,215 336.5,211 Q334,214 331.5,209 Q328,212 326,206 Q324,201 324,194 Z" fill="#c4c400"/><path d="M314,200 Q317,199 319,201 L318.5,212 Q316,215 314,213 Z" fill="#b4c200"/>
<line x1="100.6" y1="256" x2="100.6" y2="246.5" stroke="#20209a" stroke-width="1.4"/>
<path d="M98.8,247.5 L100.6,244 L102.39999999999999,247.5 Z" fill="#20209a"/>
<line x1="100.6" y1="256" x2="109.1" y2="256" stroke="#2a9a2a" stroke-width="1.4"/>
<path d="M108.1,254.2 L111.6,256 L108.1,257.8 Z" fill="#2a9a2a"/>
<circle cx="100.6" cy="256" r="1.4" fill="#7a1010"/>
<text x="100.2" y="242" font-size="4" fill="#444" font-family='"Liberation Sans",sans-serif' text-anchor="middle">z</text>
<text x="114.9" y="256.2" font-size="4" fill="#444" font-family='"Liberation Sans",sans-serif' text-anchor="middle">Y</text>
<line x1="187.9" y1="256" x2="187.9" y2="246.5" stroke="#20209a" stroke-width="1.4"/>
<path d="M186.1,247.5 L187.9,244 L189.70000000000002,247.5 Z" fill="#20209a"/>
<line x1="187.9" y1="256" x2="196.4" y2="256" stroke="#2a9a2a" stroke-width="1.4"/>
<path d="M195.4,254.2 L198.9,256 L195.4,257.8 Z" fill="#2a9a2a"/>
<circle cx="187.9" cy="256" r="1.4" fill="#7a1010"/>
<text x="187.3" y="242" font-size="4" fill="#444" font-family='"Liberation Sans",sans-serif' text-anchor="middle">z</text>
<text x="201.9" y="256.2" font-size="4" fill="#444" font-family='"Liberation Sans",sans-serif' text-anchor="middle">Y</text>
<line x1="278" y1="259.3" x2="278" y2="249.8" stroke="#20209a" stroke-width="1.4"/>
<path d="M276.2,250.8 L278,247.3 L279.8,250.8 Z" fill="#20209a"/>
<line x1="278" y1="259.3" x2="286.5" y2="259.3" stroke="#2a9a2a" stroke-width="1.4"/>
<path d="M285.5,257.5 L289,259.3 L285.5,261.1 Z" fill="#2a9a2a"/>
<circle cx="278" cy="259.3" r="1.4" fill="#7a1010"/>
<text x="277.6" y="245.5" font-size="4" fill="#444" font-family='"Liberation Sans",sans-serif' text-anchor="middle">z</text>
<text x="292.4" y="259.6" font-size="4" fill="#444" font-family='"Liberation Sans",sans-serif' text-anchor="middle">Y</text>
<path d="M468.20,145.50 L467.90,100.70 M471.08,104.88 L467.90,100.70 L464.78,104.92" stroke="#333" stroke-width="0.9" fill="none"/>
<path d="M467.90,145.30 L512.30,145.30 M508.10,148.45 L512.30,145.30 L508.10,142.15" stroke="#333" stroke-width="0.9" fill="none"/>
<text x="465.6" y="90.2" font-size="7" fill="#1a1a1a" font-family='"Liberation Sans",sans-serif' text-anchor="middle">v</text>
<text x="522.8" y="153.8" font-size="7" fill="#1a1a1a" font-family='"Liberation Sans",sans-serif' text-anchor="middle">x</text>
<rect x="392" y="177.4" width="69.4" height="57.8" fill="#92d050"/>
<rect x="513.1" y="177.4" width="69.9" height="57.5" fill="#92d050"/>
<path d="M426.30,155.80 L426.30,175.20 M423.15,171.00 L426.30,175.20 L429.45,171.00" stroke="#333" stroke-width="0.9" fill="none"/>
<path d="M426.30,254.50 L426.30,236.30 M429.45,240.50 L426.30,236.30 L423.15,240.50" stroke="#333" stroke-width="0.9" fill="none"/>
<path d="M392.00,207.30 L375.60,207.30 M379.80,204.15 L375.60,207.30 L379.80,210.45" stroke="#333" stroke-width="0.9" fill="none"/>
<path d="M461.40,207.30 L476.40,207.30 M472.20,210.45 L476.40,207.30 L472.20,204.15" stroke="#333" stroke-width="0.9" fill="none"/>
<path d="M547.90,157.30 L547.90,175.50 M544.75,171.30 L547.90,175.50 L551.05,171.30" stroke="#333" stroke-width="0.9" fill="none"/>
<path d="M548.40,254.50 L548.40,236.80 M551.55,241.00 L548.40,236.80 L545.25,241.00" stroke="#333" stroke-width="0.9" fill="none"/>
<path d="M513.10,207.60 L498.10,207.60 M502.30,204.45 L498.10,207.60 L502.30,210.75" stroke="#777" stroke-width="0.9" fill="none"/>
<path d="M583.00,207.30 L599.00,207.30 M594.80,210.45 L599.00,207.30 L594.80,204.15" stroke="#333" stroke-width="0.9" fill="none"/>
<text x="381" y="178.6" font-size="7.6" fill="#222" font-family='"Liberation Sans",sans-serif' text-anchor="middle">A</text>
<text x="467.6" y="172.9" font-size="7.6" fill="#222" font-family='"Liberation Sans",sans-serif' text-anchor="middle">B</text>
<text x="381" y="243.6" font-size="7.6" fill="#222" font-family='"Liberation Sans",sans-serif' text-anchor="middle">D</text>
<text x="471.4" y="243.6" font-size="7.6" fill="#222" font-family='"Liberation Sans",sans-serif' text-anchor="middle">C</text>
<text x="507.9" y="172.3" font-size="7.6" fill="#222" font-family='"Liberation Sans",sans-serif' text-anchor="middle">D</text>
<text x="586.4" y="174.8" font-size="7.6" fill="#222" font-family='"Liberation Sans",sans-serif' text-anchor="middle">A</text>
<text x="500.6" y="244.1" font-size="7.6" fill="#222" font-family='"Liberation Sans",sans-serif' text-anchor="middle">C</text>
<text x="587.9" y="244.1" font-size="7.6" fill="#222" font-family='"Liberation Sans",sans-serif' text-anchor="middle">B</text>
<path d="M477.3,197.1 H488.5 Q492.8,197.1 492.8,201.4 V209.5" stroke="#000" stroke-width="4.2" fill="none"/>
<path d="M488.1,209 L497.2,209 L492.7,213.6 Z" fill="#000"/>
</svg>
<div class="t" style="left:74.4px;top:276.0px;width:30.6px;height:8.0px;border:1px solid #4a4a4a;background:repeating-linear-gradient(to right,#4a4a4a 0 1px,transparent 1px 3.40px)"></div>
<div class="t" style="left:74.4px;top:291.0px;width:7.2px;height:8.6px;border:1px solid #3a3a3a"></div>
<div class="t" style="left:177.0px;top:296.0px;width:5.4px;height:5.6px;border:1px solid #c4c4c4"></div>
<div class="t" style="left:187.0px;top:291.3px;width:7.0px;height:8.1px;border:1px solid #555"></div>
<div class="t" style="left:201.0px;top:296.0px;width:5.0px;height:5.6px;border:1px solid #c4c4c4"></div>
<div class="t" style="left:211.0px;top:291.3px;width:7.6px;height:8.1px;border:1px solid #555"></div>
<div class="t" style="left:245.4px;top:296.0px;width:5.3px;height:5.6px;border:1px solid #c4c4c4"></div>
<div class="t" style="left:254.6px;top:291.3px;width:7.1px;height:8.1px;border:1px solid #333"></div>
<div class="t" style="left:68.5px;top:314.8px;width:12.5px;height:8.0px;border:1px solid #1a1a1a;background:repeating-linear-gradient(to right,#1a1a1a 0 1.1px,#999 1.1px 2.50px)"></div>
<div class="t" style="left:68.5px;top:330.5px;width:30.3px;height:8.2px;border:1px solid #4a4a4a;background:repeating-linear-gradient(to right,#4a4a4a 0 1px,transparent 1px 3.03px)"></div>
<div class="t" style="left:68.5px;top:346.2px;width:26.3px;height:8.3px;border:1px solid #4a4a4a;background:repeating-linear-gradient(to right,#4a4a4a 0 1px,transparent 1px 3.29px)"></div>
<div class="t" style="left:68.5px;top:362.0px;width:7.3px;height:7.8px;border:1px solid #222"></div>
<div class="t" style="left:68.5px;top:377.8px;width:38.7px;height:8.0px;border:1px solid #4a4a4a;background:repeating-linear-gradient(to right,#4a4a4a 0 1px,transparent 1px 3.23px)"></div>
<div class="t" style="left:68.5px;top:394.5px;width:22.3px;height:8.0px;border:1px solid #444;background:repeating-linear-gradient(to right,#444 0 1.1px,#b8b8b8 1.1px 3.19px)"></div>
<div class="t" style="left:68.5px;top:411.2px;width:7.3px;height:8.0px;border:1px solid #444"></div>
<div class="t" style="left:118.0px;top:411.2px;width:7.5px;height:8.0px;border:1px solid #333"></div>
<div class="t" style="left:68.8px;top:427.3px;width:7.0px;height:7.7px;border:1px solid #bdbdbd"></div>
<div class="t" style="left:68.8px;top:456.5px;width:7.0px;height:7.7px;border:1px solid #bdbdbd"></div>
<div class="t" style="left:68.8px;top:486.3px;width:7.0px;height:7.7px;border:1px solid #bdbdbd"></div>
<div class="t" style="left:68.8px;top:515.8px;width:7.0px;height:7.7px;border:1px solid #bdbdbd"></div>
<div class="t" style="left:68.8px;top:545.6px;width:7.0px;height:7.7px;border:1px solid #bdbdbd"></div>
<div class="t" style="left:68.8px;top:575.2px;width:7.0px;height:7.7px;border:1px solid #bdbdbd"></div>
<div class="t" style="left:68.8px;top:604.4px;width:7.0px;height:7.7px;border:1px solid #bdbdbd"></div>
<div class="t" style="left:347.1px;top:276.0px;width:7.5px;height:7.8px;border:1px solid #c4c4c4"></div>
<div class="t" style="left:368.0px;top:276.0px;width:41.7px;height:7.8px;border:1px solid #2a2a2a;background:repeating-linear-gradient(to right,#2a2a2a 0 1px,transparent 1px 5.96px)"></div>
<div class="t" style="left:371.4px;top:291.4px;width:7.7px;height:7.6px;border:1px solid #222"></div>
<div class="t" style="left:577.1px;top:287.9px;width:4.6px;height:5.2px;border:1px solid #d0d0d0"></div>
<div class="t" style="left:582.1px;top:291.1px;width:7.6px;height:8.6px;border:1px solid #444"></div>
<div class="t" style="left:345.1px;top:314.9px;width:15.7px;height:7.7px;border:1px solid #1a1a1a;background:repeating-linear-gradient(to right,#1a1a1a 0 1.1px,#8a8a8a 1.1px 2.62px)"></div>
<div class="t" style="left:367.2px;top:330.6px;width:24.8px;height:8.0px;border:1px solid #4a4a4a;background:repeating-linear-gradient(to right,#4a4a4a 0 1px,transparent 1px 3.10px)"></div>
<div class="t" style="left:368.6px;top:346.4px;width:25.7px;height:8.2px;border:1px solid #4a4a4a;background:repeating-linear-gradient(to right,#4a4a4a 0 1px,transparent 1px 3.21px)"></div>
<div class="t" style="left:362.1px;top:362.1px;width:7.9px;height:7.6px;border:1px solid #222"></div>
<div class="t" style="left:635.0px;top:361.4px;width:7.6px;height:8.2px;border:1px solid #bbb"></div>
<div class="t" style="left:390.0px;top:377.9px;width:26.9px;height:7.8px;border:1px solid #4a4a4a;background:repeating-linear-gradient(to right,#4a4a4a 0 1px,transparent 1px 3.36px)"></div>
<div class="t" style="left:364.3px;top:394.7px;width:7.4px;height:7.9px;border:1px solid #444"></div>
<div class="t" style="left:419.3px;top:390.7px;width:5.6px;height:5.2px;border:1px solid #c8c8c8"></div>
<div class="t" style="left:427.2px;top:394.4px;width:18.4px;height:8.3px;border:1px solid #444;background:repeating-linear-gradient(to right,#444 0 1.1px,#b8b8b8 1.1px 3.07px)"></div>
<div class="t" style="left:391.1px;top:411.1px;width:6.8px;height:7.9px;border:1px solid #aaa"></div>
<div class="t" style="left:79.0px;top:633.0px;width:7.6px;height:8.4px;border:1px solid #444"></div>
<div class="t" style="left:179.0px;top:649.0px;width:7.6px;height:8.6px;border:1px solid #444"></div>
<div class="t" style="left:341.7px;top:633.4px;width:7.3px;height:8.0px;border:1px solid #c4c4c4"></div>
<div class="t" style="left:374.2px;top:633.4px;width:7.5px;height:8.0px;border:1px solid #444"></div>
<div class="t" style="left:477.4px;top:649.1px;width:8.0px;height:8.5px;border:1px solid #444"></div>
<div class="t" style="left:605.3px;top:246.4px;width:7.2px;height:7.7px;border:1px solid #c8c8c8"></div>
<div class="t" style="left:68.2px;top:693.6px;width:8.8px;height:8.1px;border:1.1px solid #111;border-left-width:3.0px;border-right-width:2.7px"></div>
<div class="t" style="left:68.9px;top:709.6px;width:11.9px;height:7.7px;border:1px solid #1a1a1a;background:repeating-linear-gradient(to right,#1a1a1a 0 3.07px,#9a9a9a 3.07px 3.97px)"></div>
<div class="t" style="left:68.4px;top:725.3px;width:7.5px;height:8.0px;border:1px solid #111"></div>
<div class="t" style="left:68.4px;top:740.5px;width:7.5px;height:8.0px;border:1px solid #111"></div>
<div class="t" style="left:68.2px;top:756.4px;width:10.5px;height:8.1px;border:1px solid #111;background:linear-gradient(to right,#111 0 40%,#fff 40% 60%,#111 60% 100%)"></div>
<div class="t" style="left:68.3px;top:772.3px;width:9.6px;height:8.1px;border:1.1px solid #111;border-left-width:3.3px;border-right-width:2.9px"></div>
<div class="t" style="left:68.3px;top:788.1px;width:17.2px;height:8.1px;border:1px solid #555;background:repeating-linear-gradient(to right,#555 0 1.1px,#b8b8b8 1.1px 4.30px)"></div>
<div class="t" style="left:68.1px;top:803.5px;width:10.9px;height:8.2px;border:1px solid #111;background:linear-gradient(to right,#111 0 40%,#fff 40% 60%,#111 60% 100%)"></div>
<div class="t" style="left:68.3px;top:819.2px;width:9.6px;height:8.3px;border:1.1px solid #111;border-left-width:3.3px;border-right-width:2.9px"></div>
<div class="t" style="left:68.3px;top:835.0px;width:18.6px;height:8.6px;border:1px solid #444;background:repeating-linear-gradient(to right,#444 0 1.1px,#b8b8b8 1.1px 4.65px)"></div>
<div class="t" style="left:68.3px;top:851.2px;width:7.5px;height:8.0px;border:1px solid #666"></div>
<div class="t" style="left:350.8px;top:693.6px;width:8.3px;height:8.1px;border:1.1px solid #111;border-left-width:2.8px;border-right-width:2.5px"></div>
<div class="t" style="left:362.3px;top:709.4px;width:12.5px;height:8.2px;border:1px solid #1a1a1a;background:repeating-linear-gradient(to right,#1a1a1a 0 3.27px,#9a9a9a 3.27px 4.17px)"></div>
<div class="t" style="left:363.9px;top:725.3px;width:7.8px;height:8.0px;border:1.1px solid #111;border-left-width:2.7px;border-right-width:2.3px"></div>
<div class="t" style="left:350.8px;top:740.8px;width:8.1px;height:7.9px;border:1px solid #111"></div>
<div class="t" style="left:333.9px;top:756.4px;width:10.2px;height:8.1px;border:1px solid #111;background:linear-gradient(to right,#111 0 40%,#fff 40% 60%,#111 60% 100%)"></div>
<div class="t" style="left:340.1px;top:772.3px;width:9.2px;height:8.1px;border:1.1px solid #111;border-left-width:3.1px;border-right-width:2.8px"></div>
<div class="t" style="left:352.7px;top:788.1px;width:17.7px;height:8.1px;border:1px solid #444;background:repeating-linear-gradient(to right,#444 0 1.1px,#b8b8b8 1.1px 4.42px)"></div>
<div class="t" style="left:357.9px;top:803.5px;width:10.6px;height:8.2px;border:1px solid #111;background:linear-gradient(to right,#111 0 40%,#fff 40% 60%,#111 60% 100%)"></div>
<div class="t" style="left:347.2px;top:819.2px;width:9.7px;height:8.3px;border:1px solid #111;background:linear-gradient(to right,#111 0 40%,#fff 40% 60%,#111 60% 100%)"></div>
<div class="t" style="left:364.2px;top:835.0px;width:16.6px;height:8.6px;border:1px solid #444;background:repeating-linear-gradient(to right,#444 0 1.1px,#b8b8b8 1.1px 4.15px)"></div>
<div class="t" style="left:347.9px;top:851.2px;width:6.9px;height:8.0px;border:1px solid #777"></div>
<div class="t" style="left:628.3px;top:740.3px;width:6.6px;height:8.3px;border:1px solid #888"></div>
<div class="t" style="left:625.8px;top:756.3px;width:7.2px;height:8.3px;border:1px solid #777"></div>
<div class="t" style="left:617.2px;top:772.4px;width:7.4px;height:8.0px;border:1px solid #666"></div>
<div class="t" style="left:635.3px;top:788.2px;width:7.7px;height:8.2px;border:1px solid #ccc"></div>
<div class="t" style="left:617.8px;top:819.3px;width:7.1px;height:8.3px;border:1px solid #777"></div>
<div class="a" style="left:102px;top:408.6px;font-family:'Liberation Serif',serif;font-size:12.6px;line-height:15px;color:#1a1a1a;transform:scaleX(1.22);transform-origin:0 0">&#916;&#949;</div>
<div class="a" style="left:412.6px;top:392.4px;font-family:'Liberation Serif',serif;font-size:12.6px;line-height:15px;color:#1a1a1a;transform:scaleX(1.22);transform-origin:0 0">&#949;</div>
</body></html>
